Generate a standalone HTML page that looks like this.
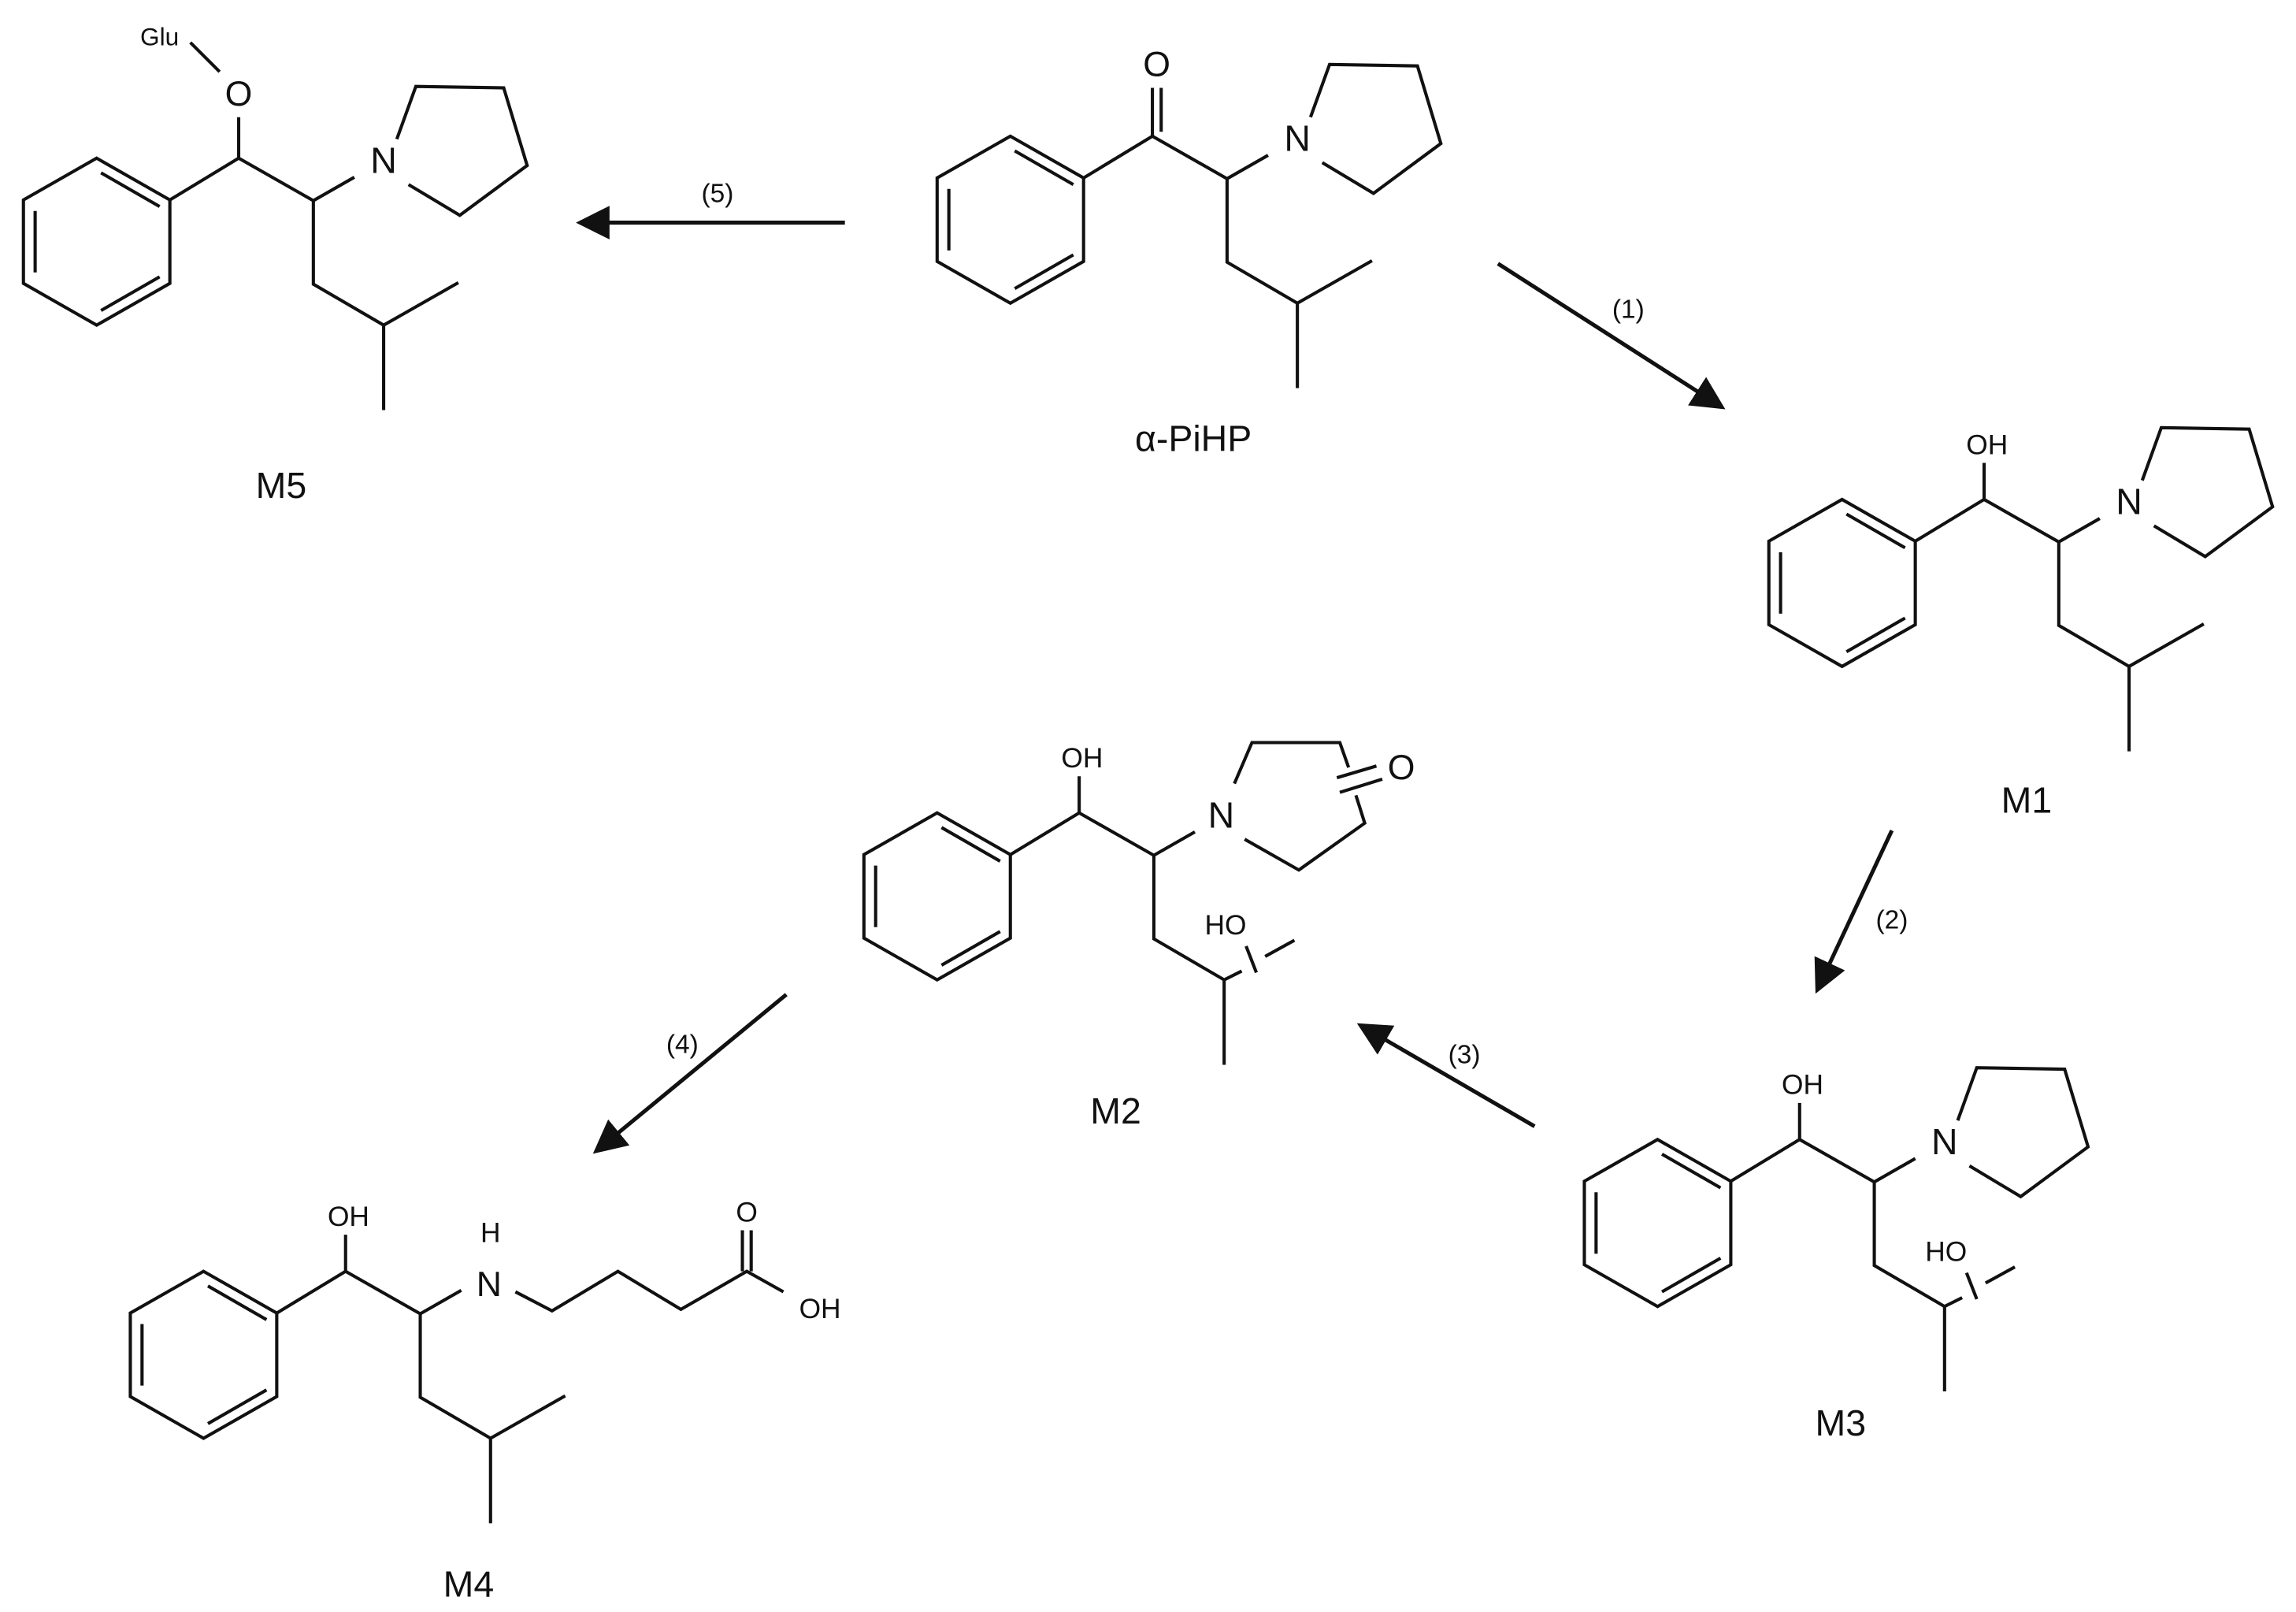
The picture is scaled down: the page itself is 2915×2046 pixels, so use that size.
<!DOCTYPE html>
<html><head><meta charset="utf-8"><style>
html,body{margin:0;padding:0;background:#fff;}
svg{display:block;}
text{font-family:"Liberation Sans",Arial,sans-serif;fill:#111;}
</style></head><body>
<svg width="2915" height="2046" viewBox="0 0 1568 1100.6" preserveAspectRatio="none" xmlns="http://www.w3.org/2000/svg">
<defs>
<g id="ring" fill="none" stroke="#111" stroke-width="2.2" stroke-linejoin="miter">
  <polygon points="0,-57 50,-28.5 50,28.5 0,57 -50,28.5 -50,-28.5"/>
  <line x1="-42" y1="-21" x2="-42" y2="21"/>
  <line x1="3" y1="-47" x2="43" y2="-24"/>
  <line x1="3" y1="47" x2="43" y2="24"/>
</g>
<g id="chain" fill="none" stroke="#111" stroke-width="2.2">
  <polyline points="50,-28.5 97,-57 148,-28 148,29 196,57"/>
  <line x1="148" y1="-28" x2="176" y2="-44"/>
  <line x1="196" y1="57" x2="196" y2="115"/>
</g>
<g id="pyr" fill="none" stroke="#111" stroke-width="2.2">
  <polyline points="205,-70 218,-106 278,-105 294,-52 248,-18 213,-39"/>
</g>
<marker id="ah" markerWidth="8.5" markerHeight="8.5" refX="7.5" refY="4.25" orient="auto" markerUnits="strokeWidth">
  <path d="M0,0 L8.5,4.25 L0,8.5 Z" fill="#111"/>
</marker>
</defs>

<!-- M5 -->
<g transform="translate(66,165)">
  <use href="#ring"/><use href="#chain"/><use href="#pyr"/>
  <line x1="196" y1="57" x2="247" y2="28" stroke="#111" stroke-width="2.2"/>
  <line x1="97" y1="-57" x2="97" y2="-85" stroke="#111" stroke-width="2.2"/>
  <line x1="64" y1="-136" x2="84" y2="-116" stroke="#111" stroke-width="2.2"/>
  <text x="97" y="-93" font-size="24" text-anchor="middle">O</text>
  <text x="43" y="-134" font-size="17" text-anchor="middle">Glu</text>
  <text x="196" y="-47" font-size="25" text-anchor="middle">N</text>
</g>
<text x="192" y="340" font-size="25" text-anchor="middle">M5</text>

<!-- alpha-PiHP -->
<g transform="translate(690,150)">
  <use href="#ring"/><use href="#chain"/><use href="#pyr"/>
  <line x1="196" y1="57" x2="247" y2="28" stroke="#111" stroke-width="2.2"/>
  <line x1="97" y1="-57" x2="97" y2="-90" stroke="#111" stroke-width="2.2"/>
  <line x1="103" y1="-60" x2="103" y2="-90" stroke="#111" stroke-width="2.2"/>
  <text x="100" y="-98" font-size="24" text-anchor="middle">O</text>
  <text x="196" y="-47" font-size="25" text-anchor="middle">N</text>
</g>
<text x="815" y="308" font-size="25" text-anchor="middle">α-PiHP</text>

<!-- M1 -->
<g transform="translate(1258,398)">
  <use href="#ring"/><use href="#chain"/><use href="#pyr"/>
  <line x1="196" y1="57" x2="247" y2="28" stroke="#111" stroke-width="2.2"/>
  <line x1="97" y1="-57" x2="97" y2="-82" stroke="#111" stroke-width="2.2"/>
  <text x="99" y="-88" font-size="19" text-anchor="middle">OH</text>
  <text x="196" y="-47" font-size="25" text-anchor="middle">N</text>
</g>
<text x="1384" y="555" font-size="25" text-anchor="middle">M1</text>

<!-- M3 -->
<g transform="translate(1132,835)">
  <use href="#ring"/><use href="#chain"/><use href="#pyr"/>
  <g stroke="#111" stroke-width="2.2">
    <line x1="196" y1="57" x2="208" y2="51"/>
    <line x1="211" y1="34" x2="218" y2="52"/>
    <line x1="224" y1="41" x2="244" y2="30"/>
    <line x1="97" y1="-57" x2="97" y2="-82"/>
  </g>
  <text x="197" y="26" font-size="19" text-anchor="middle">HO</text>
  <text x="99" y="-88" font-size="19" text-anchor="middle">OH</text>
  <text x="196" y="-47" font-size="25" text-anchor="middle">N</text>
</g>
<text x="1257" y="980" font-size="25" text-anchor="middle">M3</text>

<!-- M2 -->
<g transform="translate(640,612)">
  <use href="#ring"/><use href="#chain"/>
  <g stroke="#111" stroke-width="2.2">
    <line x1="196" y1="57" x2="208" y2="51"/>
    <line x1="211" y1="34" x2="218" y2="52"/>
    <line x1="224" y1="41" x2="244" y2="30"/>
    <line x1="97" y1="-57" x2="97" y2="-82"/>
  </g>
  <text x="197" y="26" font-size="19" text-anchor="middle">HO</text>
  <text x="99" y="-88" font-size="19" text-anchor="middle">OH</text>
  <text x="194" y="-47" font-size="25" text-anchor="middle">N</text>
</g>
<g fill="none" stroke="#111" stroke-width="2.2">
  <polyline points="843,535 855,507 915,507 921,524"/>
  <polyline points="926,543 932,562 887,594 850,573"/>
  <line x1="913" y1="531" x2="940" y2="523"/>
  <line x1="915" y1="541" x2="944" y2="532"/>
</g>
<text x="957" y="532" font-size="24" text-anchor="middle">O</text>
<text x="762" y="767" font-size="25" text-anchor="middle">M2</text>

<!-- M4 -->
<g transform="translate(139,925)">
  <use href="#ring"/><use href="#chain"/>
  <line x1="196" y1="57" x2="247" y2="28" stroke="#111" stroke-width="2.2"/>
  <line x1="97" y1="-57" x2="97" y2="-82" stroke="#111" stroke-width="2.2"/>
  <text x="99" y="-88" font-size="19" text-anchor="middle">OH</text>
</g>
<text x="334" y="885" font-size="24" text-anchor="middle">N</text>
<text x="335" y="848" font-size="19" text-anchor="middle">H</text>
<g fill="none" stroke="#111" stroke-width="2.2">
  <polyline points="352,882 377,895 422,868 465,894 510,868 535,882"/>
  <line x1="507" y1="868" x2="507" y2="840"/>
  <line x1="513" y1="868" x2="513" y2="840"/>
</g>
<text x="510" y="834" font-size="19" text-anchor="middle">O</text>
<text x="560" y="900" font-size="19" text-anchor="middle">OH</text>
<text x="320" y="1090" font-size="25" text-anchor="middle">M4</text>

<!-- arrows -->
<g stroke="#111" stroke-width="2.7" fill="none" marker-end="url(#ah)">
  <line x1="577" y1="152" x2="396" y2="152"/>
  <line x1="1023" y1="180" x2="1176" y2="278"/>
  <line x1="1292" y1="567" x2="1241" y2="676"/>
  <line x1="1048" y1="769" x2="929" y2="700"/>
  <line x1="537" y1="679" x2="407" y2="786"/>
</g>
<g font-size="18" fill="#333">
  <text x="490" y="138" text-anchor="middle">(5)</text>
  <text x="1112" y="217" text-anchor="middle">(1)</text>
  <text x="1292" y="634" text-anchor="middle">(2)</text>
  <text x="1000" y="726" text-anchor="middle">(3)</text>
  <text x="466" y="719" text-anchor="middle">(4)</text>
</g>
</svg>
</body></html>
